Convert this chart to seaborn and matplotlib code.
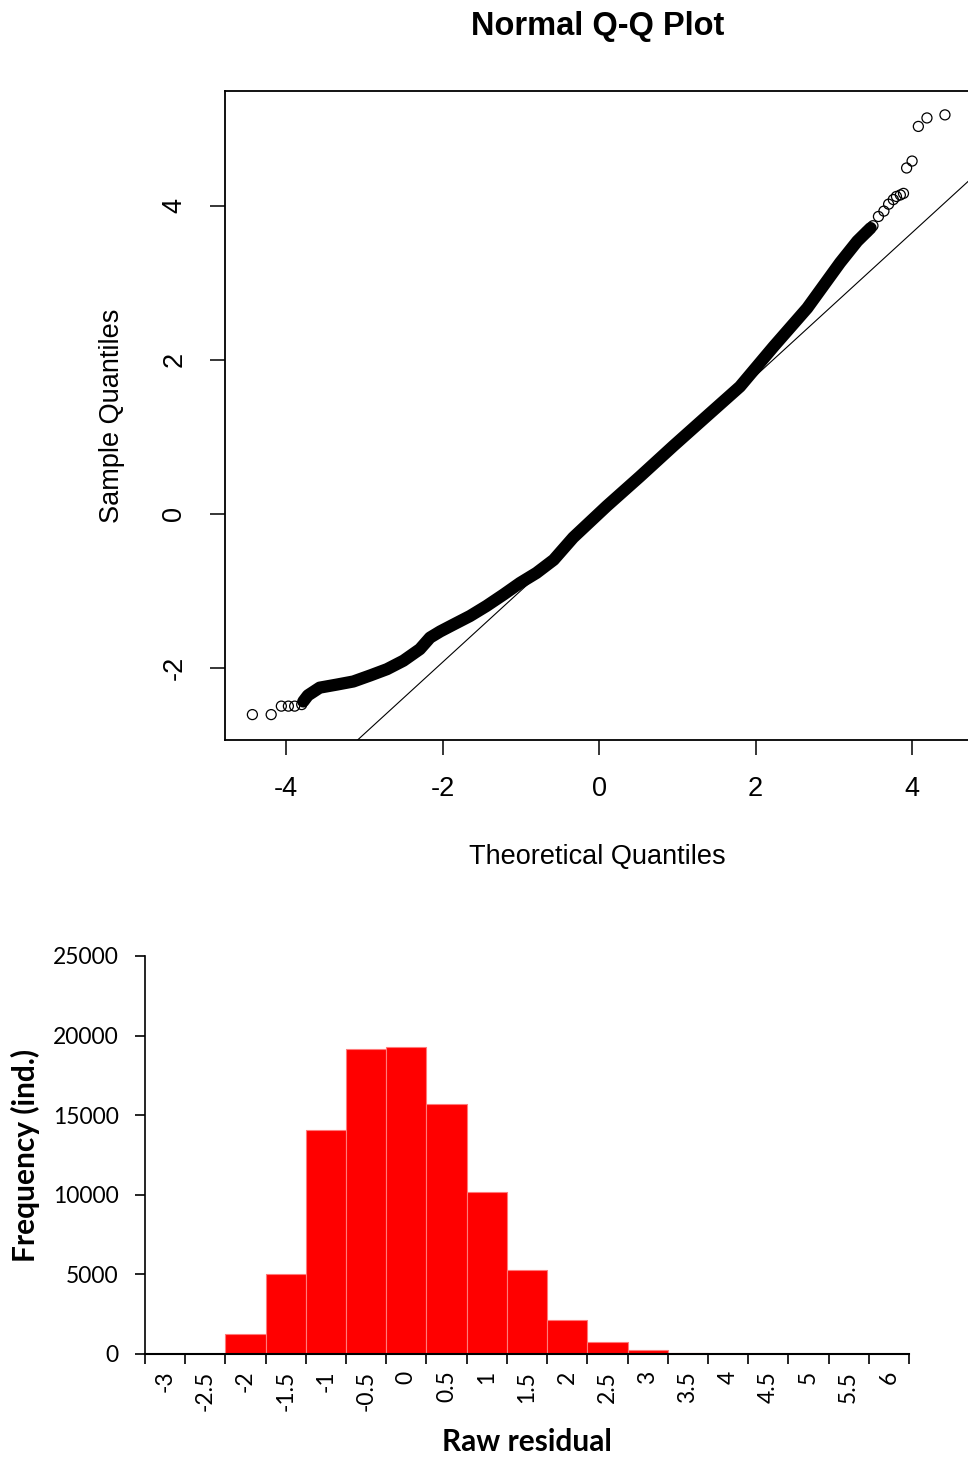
import numpy as np
import matplotlib
matplotlib.use('Agg')
import matplotlib.pyplot as plt
import seaborn as sns


# Normal Q-Q plot
# dense middle part of the sample (drawn as a thick band)
qq_band_x = [-3.78, -3.72, -3.57, -3.35, -3.14, -2.92, -2.71, -2.50, -2.29, -2.16,
             -2.03, -1.86, -1.65, -1.44, -1.22, -1.01, -0.80, -0.58, -0.33, 0.10,
             0.52, 0.95, 1.38, 1.80, 2.23, 2.66, 3.08, 3.30, 3.47]
qq_band_y = [-2.44, -2.36, -2.26, -2.22, -2.18, -2.10, -2.02, -1.91, -1.76, -1.61,
             -1.53, -1.44, -1.33, -1.20, -1.05, -0.90, -0.77, -0.60, -0.31, 0.10,
             0.48, 0.88, 1.27, 1.65, 2.17, 2.67, 3.26, 3.54, 3.71]

# single points in the tails
qq_tail_x = [-4.43, -4.19, -4.06, -3.97, -3.89, -3.80,
             3.42, 3.50, 3.57, 3.64, 3.70, 3.76, 3.80, 3.85, 3.89,
             3.93, 4.00, 4.08, 4.19, 4.42]
qq_tail_y = [-2.61, -2.61, -2.50, -2.50, -2.50, -2.48,
             3.66, 3.74, 3.86, 3.93, 4.02, 4.08, 4.12, 4.14, 4.16,
             4.49, 4.58, 5.03, 5.14, 5.18]

# qqline
qq_intercept = -0.07
qq_slope = 0.93

# Histogram of raw residuals
hist_bins = ['-3', '-2.5', '-2', '-1.5', '-1', '-0.5', '0', '0.5', '1', '1.5',
             '2', '2.5', '3', '3.5', '4', '4.5', '5', '5.5', '6']
hist_counts = [0, 0, 1250, 5000, 14050, 19150, 19300, 15700, 10150, 5300,
               2130, 760, 250, 40, 0, 0, 0, 0, 0]


sns.set_style('white')
plt.rcParams['font.family'] = ['Liberation Sans', 'DejaVu Sans']
plt.rcParams['axes.unicode_minus'] = False
plt.rcParams['text.color'] = 'black'
plt.rcParams['axes.labelcolor'] = 'black'
plt.rcParams['xtick.color'] = 'black'
plt.rcParams['ytick.color'] = 'black'

fig = plt.figure(figsize=(9.68, 14.59), dpi=100)

# ---- Q-Q plot ----
ax = fig.add_axes([225 / 968, 1 - 740 / 1459, 745 / 968, 649 / 1459])
sns.lineplot(x=qq_band_x, y=qq_band_y, sort=False, estimator=None, color='black',
             linewidth=8.8, solid_capstyle='round', solid_joinstyle='round', ax=ax)
sns.scatterplot(x=qq_tail_x, y=qq_tail_y, marker='o', s=52, facecolor='none',
                edgecolor='black', linewidth=0.9, ax=ax)
ax.axline((0, qq_intercept), slope=qq_slope, color='black', linewidth=0.8)

ax.set_xlim(-4.78, 4.74)
ax.set_ylim(-2.94, 5.49)
ax.set_xticks([-4, -2, 0, 2, 4])
ax.set_yticks([-2, 0, 2, 4])
ax.set_yticklabels(['-2', '0', '2', '4'], rotation=90, va='center')
ax.tick_params(direction='out', length=11, width=1.1, labelsize=19.5, pad=15,
               bottom=True, left=True, colors='black')
ax.tick_params(axis='y', pad=16)
for s in ax.spines.values():
    s.set_color('black')
    s.set_linewidth(1.3)

ax.set_xlabel('Theoretical Quantiles', fontsize=19.5)
ax.xaxis.set_label_coords(0.5, -0.180)
ax.xaxis.label.set_va('center')
ax.set_ylabel('Sample Quantiles', fontsize=19.5)
ax.yaxis.set_label_coords(-0.152, 0.5)
ax.yaxis.label.set_va('center')
ax.text(0.5, 1.100, 'Normal Q-Q Plot', transform=ax.transAxes, fontsize=23.5,
        fontweight='bold', ha='center', va='center')

# ---- Histogram ----
ax2 = fig.add_axes([145 / 968, 1 - 1354 / 1459, 764 / 968, 398 / 1459])
sns.barplot(x=hist_bins, y=hist_counts, order=hist_bins, color='#ff0000', saturation=1,
            width=1.0, edgecolor='#ff7a7a', linewidth=0.8, ax=ax2)

ax2.set_xlim(-0.5, len(hist_bins) - 0.5)
ax2.set_ylim(0, 25000)
ax2.set_yticks([0, 5000, 10000, 15000, 20000, 25000])
ax2.set_xticks(range(len(hist_bins)))
ax2.set_xticklabels(hist_bins, rotation=90, family=['Lato', 'DejaVu Sans'], fontsize=16.5)
ax2.set_xticks(np.arange(-0.5, len(hist_bins), 1), minor=True)
ax2.tick_params(axis='x', which='major', length=0, pad=12)
ax2.tick_params(axis='x', which='minor', direction='out', length=7, width=1.2,
                bottom=True, color='black')
ax2.tick_params(axis='y', direction='out', length=7, width=1.2, left=True,
                pad=12, labelsize=16.5, colors='black')
for lab in ax2.get_yticklabels():
    lab.set_family(['Lato', 'DejaVu Sans'])
sns.despine(ax=ax2)
ax2.spines['left'].set_linewidth(1.2)
ax2.spines['bottom'].set_linewidth(1.5)
ax2.spines['left'].set_color('black')
ax2.spines['bottom'].set_color('black')

ax2.set_xlabel('Raw residual', fontsize=21.5, fontweight='bold', family=['Lato', 'DejaVu Sans'])
ax2.xaxis.set_label_coords(0.5, -0.221)
ax2.xaxis.label.set_va('center')
ax2.set_ylabel('Frequency (ind.)', fontsize=21.5, fontweight='bold', family=['Lato', 'DejaVu Sans'])
ax2.yaxis.set_label_coords(-0.156, 0.5)
ax2.yaxis.label.set_va('center')

fig.savefig('out.png', dpi=100)
